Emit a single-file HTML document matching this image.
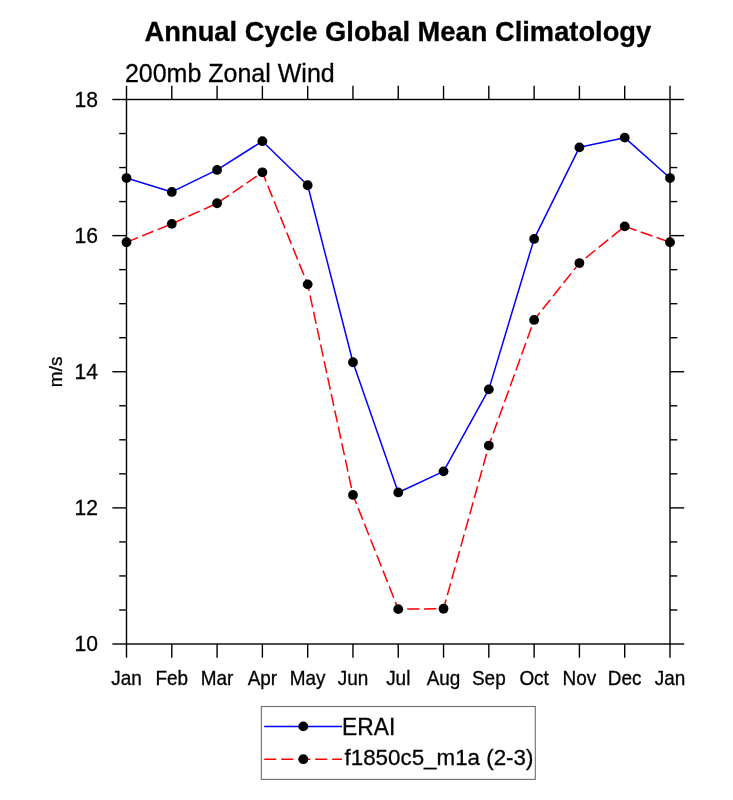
<!DOCTYPE html>
<html><head><meta charset="utf-8"><style>
html,body{margin:0;padding:0;background:#fff;width:733px;height:800px;overflow:hidden}
svg{display:block}
text{font-family:"Liberation Sans", sans-serif;fill:#000;stroke:#000;stroke-width:0.3px}
.t{filter:grayscale(1)}
</style></head><body>
<svg width="733" height="800" viewBox="0 0 733 800">
<rect width="733" height="800" fill="#fff"/>

<g>
<text class="t" x="144.6" y="41.2" font-size="27.3" font-weight="bold">Annual Cycle Global Mean Climatology</text>
<text class="t" x="124.9" y="82.4" font-size="25">200mb Zonal Wind</text>
</g>
<g stroke="#000" stroke-width="1.4" fill="none" stroke-linecap="butt">
<rect x="126.5" y="99.5" width="543.5" height="544.5"/>
<line x1="126.50" y1="99.5" x2="126.50" y2="85.8"/>
<line x1="126.50" y1="644.0" x2="126.50" y2="657.7"/>
<line x1="171.79" y1="99.5" x2="171.79" y2="85.8"/>
<line x1="171.79" y1="644.0" x2="171.79" y2="657.7"/>
<line x1="217.08" y1="99.5" x2="217.08" y2="85.8"/>
<line x1="217.08" y1="644.0" x2="217.08" y2="657.7"/>
<line x1="262.38" y1="99.5" x2="262.38" y2="85.8"/>
<line x1="262.38" y1="644.0" x2="262.38" y2="657.7"/>
<line x1="307.67" y1="99.5" x2="307.67" y2="85.8"/>
<line x1="307.67" y1="644.0" x2="307.67" y2="657.7"/>
<line x1="352.96" y1="99.5" x2="352.96" y2="85.8"/>
<line x1="352.96" y1="644.0" x2="352.96" y2="657.7"/>
<line x1="398.25" y1="99.5" x2="398.25" y2="85.8"/>
<line x1="398.25" y1="644.0" x2="398.25" y2="657.7"/>
<line x1="443.54" y1="99.5" x2="443.54" y2="85.8"/>
<line x1="443.54" y1="644.0" x2="443.54" y2="657.7"/>
<line x1="488.83" y1="99.5" x2="488.83" y2="85.8"/>
<line x1="488.83" y1="644.0" x2="488.83" y2="657.7"/>
<line x1="534.12" y1="99.5" x2="534.12" y2="85.8"/>
<line x1="534.12" y1="644.0" x2="534.12" y2="657.7"/>
<line x1="579.42" y1="99.5" x2="579.42" y2="85.8"/>
<line x1="579.42" y1="644.0" x2="579.42" y2="657.7"/>
<line x1="624.71" y1="99.5" x2="624.71" y2="85.8"/>
<line x1="624.71" y1="644.0" x2="624.71" y2="657.7"/>
<line x1="670.00" y1="99.5" x2="670.00" y2="85.8"/>
<line x1="670.00" y1="644.0" x2="670.00" y2="657.7"/>
<line x1="126.5" y1="644.00" x2="112.3" y2="644.00"/>
<line x1="670.0" y1="644.00" x2="684.2" y2="644.00"/>
<line x1="126.5" y1="609.97" x2="119.2" y2="609.97"/>
<line x1="670.0" y1="609.97" x2="677.3" y2="609.97"/>
<line x1="126.5" y1="575.94" x2="119.2" y2="575.94"/>
<line x1="670.0" y1="575.94" x2="677.3" y2="575.94"/>
<line x1="126.5" y1="541.91" x2="119.2" y2="541.91"/>
<line x1="670.0" y1="541.91" x2="677.3" y2="541.91"/>
<line x1="126.5" y1="507.88" x2="112.3" y2="507.88"/>
<line x1="670.0" y1="507.88" x2="684.2" y2="507.88"/>
<line x1="126.5" y1="473.84" x2="119.2" y2="473.84"/>
<line x1="670.0" y1="473.84" x2="677.3" y2="473.84"/>
<line x1="126.5" y1="439.81" x2="119.2" y2="439.81"/>
<line x1="670.0" y1="439.81" x2="677.3" y2="439.81"/>
<line x1="126.5" y1="405.78" x2="119.2" y2="405.78"/>
<line x1="670.0" y1="405.78" x2="677.3" y2="405.78"/>
<line x1="126.5" y1="371.75" x2="112.3" y2="371.75"/>
<line x1="670.0" y1="371.75" x2="684.2" y2="371.75"/>
<line x1="126.5" y1="337.72" x2="119.2" y2="337.72"/>
<line x1="670.0" y1="337.72" x2="677.3" y2="337.72"/>
<line x1="126.5" y1="303.69" x2="119.2" y2="303.69"/>
<line x1="670.0" y1="303.69" x2="677.3" y2="303.69"/>
<line x1="126.5" y1="269.66" x2="119.2" y2="269.66"/>
<line x1="670.0" y1="269.66" x2="677.3" y2="269.66"/>
<line x1="126.5" y1="235.62" x2="112.3" y2="235.62"/>
<line x1="670.0" y1="235.62" x2="684.2" y2="235.62"/>
<line x1="126.5" y1="201.59" x2="119.2" y2="201.59"/>
<line x1="670.0" y1="201.59" x2="677.3" y2="201.59"/>
<line x1="126.5" y1="167.56" x2="119.2" y2="167.56"/>
<line x1="670.0" y1="167.56" x2="677.3" y2="167.56"/>
<line x1="126.5" y1="133.53" x2="119.2" y2="133.53"/>
<line x1="670.0" y1="133.53" x2="677.3" y2="133.53"/>
<line x1="126.5" y1="99.50" x2="112.3" y2="99.50"/>
<line x1="670.0" y1="99.50" x2="684.2" y2="99.50"/>
</g>
<text class="t" transform="translate(126.50,685.2) scale(0.934,1)" text-anchor="middle" font-size="20.3">Jan</text>
<text class="t" transform="translate(171.79,685.2) scale(0.934,1)" text-anchor="middle" font-size="20.3">Feb</text>
<text class="t" transform="translate(217.08,685.2) scale(0.934,1)" text-anchor="middle" font-size="20.3">Mar</text>
<text class="t" transform="translate(262.38,685.2) scale(0.934,1)" text-anchor="middle" font-size="20.3">Apr</text>
<text class="t" transform="translate(307.67,685.2) scale(0.934,1)" text-anchor="middle" font-size="20.3">May</text>
<text class="t" transform="translate(352.96,685.2) scale(0.934,1)" text-anchor="middle" font-size="20.3">Jun</text>
<text class="t" transform="translate(398.25,685.2) scale(0.934,1)" text-anchor="middle" font-size="20.3">Jul</text>
<text class="t" transform="translate(443.54,685.2) scale(0.934,1)" text-anchor="middle" font-size="20.3">Aug</text>
<text class="t" transform="translate(488.83,685.2) scale(0.934,1)" text-anchor="middle" font-size="20.3">Sep</text>
<text class="t" transform="translate(534.12,685.2) scale(0.934,1)" text-anchor="middle" font-size="20.3">Oct</text>
<text class="t" transform="translate(579.42,685.2) scale(0.934,1)" text-anchor="middle" font-size="20.3">Nov</text>
<text class="t" transform="translate(624.71,685.2) scale(0.934,1)" text-anchor="middle" font-size="20.3">Dec</text>
<text class="t" transform="translate(670.00,685.2) scale(0.934,1)" text-anchor="middle" font-size="20.3">Jan</text>
<text class="t" transform="translate(97.95,651.00) scale(0.93,1)" text-anchor="end" font-size="22.7">10</text>
<text class="t" transform="translate(97.95,515.42) scale(0.93,1)" text-anchor="end" font-size="22.7">12</text>
<text class="t" transform="translate(97.95,379.30) scale(0.93,1)" text-anchor="end" font-size="22.7">14</text>
<text class="t" transform="translate(97.95,243.18) scale(0.93,1)" text-anchor="end" font-size="22.7">16</text>
<text class="t" transform="translate(97.95,107.05) scale(0.93,1)" text-anchor="end" font-size="22.7">18</text>
<text class="t" transform="translate(61.8,371.9) rotate(-90) scale(1.035,1)" text-anchor="middle" font-size="18.3">m/s</text>
<polyline points="126.50,242.25 171.79,223.85 217.08,203.25 262.38,172.30 307.67,284.35 352.96,494.95 398.25,609.15 443.54,608.75 488.83,445.55 534.12,319.95 579.42,263.05 624.71,226.35 670.00,242.25" fill="none" stroke="#ff0000" stroke-width="1.5" stroke-dasharray="12.3 4.5" stroke-linejoin="round"/>
<polyline points="126.50,178.05 171.79,191.95 217.08,169.95 262.38,141.20 307.67,185.25 352.96,362.25 398.25,492.45 443.54,471.35 488.83,389.35 534.12,238.95 579.42,147.35 624.71,137.65 670.00,178.05" fill="none" stroke="#0000ff" stroke-width="1.5" stroke-linejoin="round"/>
<circle cx="126.50" cy="242.25" r="4.9" fill="#000"/>
<circle cx="171.79" cy="223.85" r="4.9" fill="#000"/>
<circle cx="217.08" cy="203.25" r="4.9" fill="#000"/>
<circle cx="262.38" cy="172.30" r="4.9" fill="#000"/>
<circle cx="307.67" cy="284.35" r="4.9" fill="#000"/>
<circle cx="352.96" cy="494.95" r="4.9" fill="#000"/>
<circle cx="398.25" cy="609.15" r="4.9" fill="#000"/>
<circle cx="443.54" cy="608.75" r="4.9" fill="#000"/>
<circle cx="488.83" cy="445.55" r="4.9" fill="#000"/>
<circle cx="534.12" cy="319.95" r="4.9" fill="#000"/>
<circle cx="579.42" cy="263.05" r="4.9" fill="#000"/>
<circle cx="624.71" cy="226.35" r="4.9" fill="#000"/>
<circle cx="670.00" cy="242.25" r="4.9" fill="#000"/>
<circle cx="126.50" cy="178.05" r="4.9" fill="#000"/>
<circle cx="171.79" cy="191.95" r="4.9" fill="#000"/>
<circle cx="217.08" cy="169.95" r="4.9" fill="#000"/>
<circle cx="262.38" cy="141.20" r="4.9" fill="#000"/>
<circle cx="307.67" cy="185.25" r="4.9" fill="#000"/>
<circle cx="352.96" cy="362.25" r="4.9" fill="#000"/>
<circle cx="398.25" cy="492.45" r="4.9" fill="#000"/>
<circle cx="443.54" cy="471.35" r="4.9" fill="#000"/>
<circle cx="488.83" cy="389.35" r="4.9" fill="#000"/>
<circle cx="534.12" cy="238.95" r="4.9" fill="#000"/>
<circle cx="579.42" cy="147.35" r="4.9" fill="#000"/>
<circle cx="624.71" cy="137.65" r="4.9" fill="#000"/>
<circle cx="670.00" cy="178.05" r="4.9" fill="#000"/>
<rect x="261.35" y="706.5" width="273.95" height="72.90" fill="none" stroke="#6e6e6e" stroke-width="1.1"/>
<line x1="264.2" y1="726.4" x2="342.0" y2="726.4" stroke="#0000ff" stroke-width="1.5"/>
<circle cx="303.3" cy="726.4" r="4.9" fill="#000"/>
<line x1="264.2" y1="759.2" x2="342.0" y2="759.2" stroke="#ff0000" stroke-width="1.5" stroke-dasharray="12.1 4.9"/>
<circle cx="303.3" cy="759.2" r="4.9" fill="#000"/>
<text class="t" transform="translate(342.1,734.7) scale(0.99,1)" font-size="23">ERAI</text>
<text class="t" transform="translate(344.5,765.2) scale(0.981,1)" font-size="22.8">f1850c5_m1a (2-3)</text>
</svg></body></html>
